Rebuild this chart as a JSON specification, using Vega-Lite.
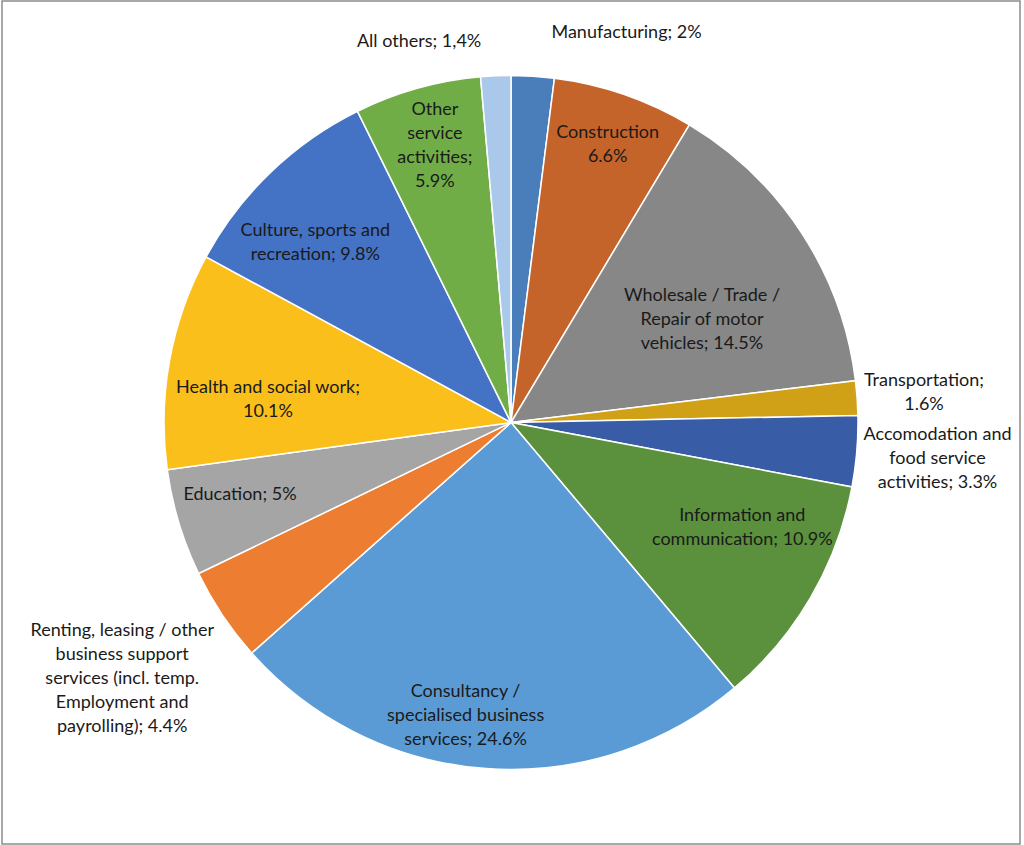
{
  "$schema": "https://vega.github.io/schema/vega-lite/v6.json",
  "width": 1018,
  "height": 843,
  "autosize": {"type": "none"},
  "padding": {"left": 2, "top": 1, "right": 4, "bottom": 1},
  "background": "white",
  "config": {"view": {"stroke": null}, "text": {"font": "Lato", "fontSize": 18, "lineHeight": 24, "lineBreak": "\n", "fill": "#1a1a1a", "align": "center", "baseline": "middle"}},
  "data": {
    "values": [
      {"rank": 1, "category": "Manufacturing", "share": 2.0, "label": "Manufacturing; 2%"},
      {"rank": 2, "category": "Construction", "share": 6.6, "label": "Construction\n6.6%"},
      {"rank": 3, "category": "Wholesale / Trade / Repair of motor vehicles", "share": 14.5, "label": "Wholesale / Trade /\nRepair of motor\nvehicles; 14.5%"},
      {"rank": 4, "category": "Transportation", "share": 1.6, "label": "Transportation;\n1.6%"},
      {"rank": 5, "category": "Accomodation and food service activities", "share": 3.3, "label": "Accomodation and\nfood service\nactivities; 3.3%"},
      {"rank": 6, "category": "Information and communication", "share": 10.9, "label": "Information and\ncommunication; 10.9%"},
      {"rank": 7, "category": "Consultancy / specialised business services", "share": 24.6, "label": "Consultancy /\nspecialised business\nservices; 24.6%"},
      {"rank": 8, "category": "Renting, leasing / other business support services", "share": 4.4, "label": "Renting, leasing / other\nbusiness support\nservices (incl. temp.\nEmployment and\npayrolling); 4.4%"},
      {"rank": 9, "category": "Education", "share": 5.0, "label": "Education; 5%"},
      {"rank": 10, "category": "Health and social work", "share": 10.1, "label": "Health and social work;\n10.1%"},
      {"rank": 11, "category": "Culture, sports and recreation", "share": 9.8, "label": "Culture, sports and\nrecreation; 9.8%"},
      {"rank": 12, "category": "Other service activities", "share": 5.9, "label": "Other\nservice\nactivities;\n5.9%"},
      {"rank": 13, "category": "All others", "share": 1.4, "label": "All others; 1,4%"}
    ]
  },
  "layer": [
    {
      "data": {"values": [{"frame": 1}]},
      "mark": {"type": "rect", "fill": "transparent", "stroke": "#8c8c8c", "strokeWidth": 1.5},
      "encoding": {}
    },
    {
      "encoding": {
        "theta": {"field": "share", "type": "quantitative", "stack": true},
        "order": {"field": "rank", "type": "quantitative"}
      },
      "layer": [
        {
          "mark": {"type": "arc", "radius": 347, "stroke": "white", "strokeWidth": 1.5},
          "encoding": {
            "color": {
              "field": "category",
              "type": "nominal",
              "legend": null,
              "scale": {
                "domain": ["Manufacturing", "Construction", "Wholesale / Trade / Repair of motor vehicles", "Transportation", "Accomodation and food service activities", "Information and communication", "Consultancy / specialised business services", "Renting, leasing / other business support services", "Education", "Health and social work", "Culture, sports and recreation", "Other service activities", "All others"],
                "range": ["#4a7ebb", "#c5642a", "#878787", "#d0a017", "#385da6", "#5b913c", "#5b9bd5", "#ed7d31", "#a5a5a5", "#fbbf1b", "#4472c4", "#70ad47", "#a9c8ea"]
              }
            }
          }
        },
        {"mark": {"type": "text", "radius": 390, "align": "left", "dx": 16, "dy": 0},
         "encoding": {"text": {"condition": {"test": "datum.category == 'Manufacturing'", "field": "label"}, "value": ""}}},
        {"mark": {"type": "text", "radius": 293, "dx": 1, "dy": -13},
         "encoding": {"text": {"condition": {"test": "datum.category == 'Construction'", "field": "label"}, "value": ""}}},
        {"mark": {"type": "text", "radius": 217, "dx": 9, "dy": -8},
         "encoding": {"text": {"condition": {"test": "datum.category == 'Wholesale / Trade / Repair of motor vehicles'", "field": "label"}, "value": ""}}},
        {"mark": {"type": "text", "radius": 414, "dx": 0, "dy": -12},
         "encoding": {"text": {"condition": {"test": "datum.category == 'Transportation'", "field": "label"}, "value": ""}}},
        {"mark": {"type": "text", "radius": 428, "dx": 0, "dy": -23},
         "encoding": {"text": {"condition": {"test": "datum.category == 'Accomodation and food service activities'", "field": "label"}, "value": ""}}},
        {"mark": {"type": "text", "radius": 254, "dx": 12, "dy": -35},
         "encoding": {"text": {"condition": {"test": "datum.category == 'Information and communication'", "field": "label"}, "value": ""}}},
        {"mark": {"type": "text", "radius": 297, "dx": -24, "dy": -27},
         "encoding": {"text": {"condition": {"test": "datum.category == 'Consultancy / specialised business services'", "field": "label"}, "value": ""}}},
        {"mark": {"type": "text", "radius": 465, "dx": -2, "dy": -50},
         "encoding": {"text": {"condition": {"test": "datum.category == 'Renting, leasing / other business support services'", "field": "label"}, "value": ""}}},
        {"mark": {"type": "text", "radius": 281, "dx": -2, "dy": -9},
         "encoding": {"text": {"condition": {"test": "datum.category == 'Education'", "field": "label"}, "value": ""}}},
        {"mark": {"type": "text", "radius": 244, "dx": -3, "dy": 9},
         "encoding": {"text": {"condition": {"test": "datum.category == 'Health and social work'", "field": "label"}, "value": ""}}},
        {"mark": {"type": "text", "radius": 265, "dx": -12, "dy": 0},
         "encoding": {"text": {"condition": {"test": "datum.category == 'Culture, sports and recreation'", "field": "label"}, "value": ""}}},
        {"mark": {"type": "text", "radius": 286, "dx": 1, "dy": -37},
         "encoding": {"text": {"condition": {"test": "datum.category == 'Other service activities'", "field": "label"}, "value": ""}}},
        {"mark": {"type": "text", "radius": 381, "align": "right", "dx": -13, "dy": 0},
         "encoding": {"text": {"condition": {"test": "datum.category == 'All others'", "field": "label"}, "value": ""}}}
      ]
    }
  ]
}
